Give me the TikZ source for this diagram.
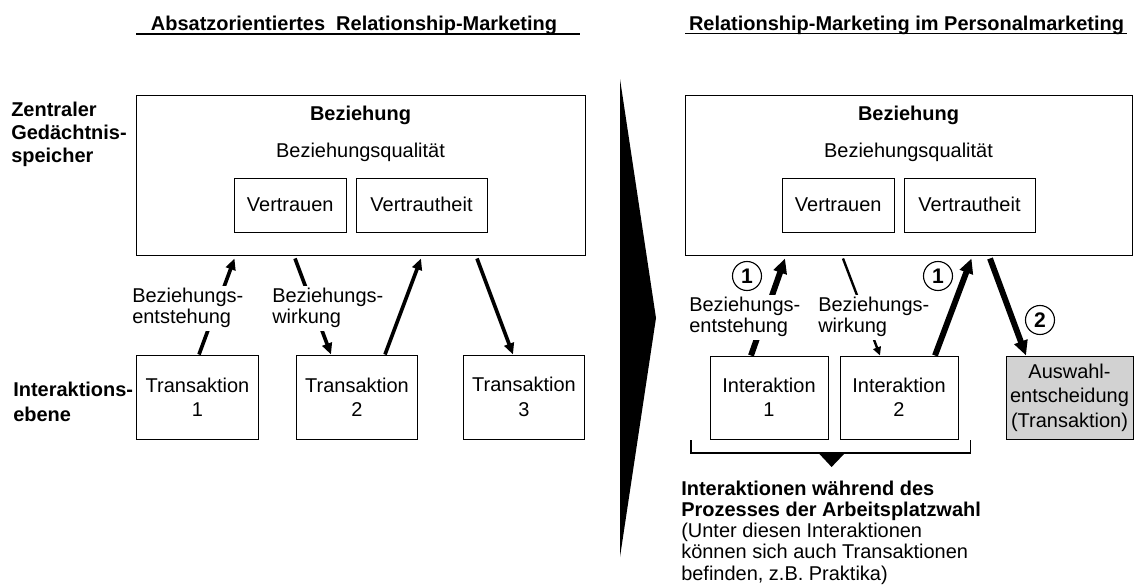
\documentclass[tikz,border=0pt]{standalone}
\usepackage{fontspec}
\setmainfont{Liberation Sans}
\usetikzlibrary{arrows.meta}
\usetikzlibrary{calc}
\definecolor{boxgray}{RGB}{210,210,210}
\newcommand{\pu}{0.025cm}

\begin{document}
\begin{tikzpicture}[x=\pu,y=-\pu,
    every node/.style={font=\fontsize{14.2}{17.4}\selectfont},
    box/.style={draw,line width=0.7pt,align=center,inner sep=2pt},
    qbox/.style={box,text height=10.4pt,text depth=0.6pt,minimum height=54*\pu},
    lbl/.style={fill=white,align=left,inner sep=2pt,anchor=west,font=\fontsize{14.2}{14.9}\selectfont},
    num/.style={draw,circle,line width=0.8pt,minimum size=29*\pu,inner sep=0pt,font=\fontsize{15}{17.4}\selectfont\bfseries},
    arr/.style={-{Triangle[length=8pt,width=7pt]},line width=2.6pt},
    arrlight/.style={-{Triangle[length=6pt,width=5.6pt]},line width=1.7pt},
    arrheavy/.style={-{Triangle[length=10.5pt,width=9.5pt]},line width=4.2pt}]
    \useasboundingbox (0,0) rectangle (1134,585);

    % titles
    \node[anchor=base,font=\fontsize{14.2}{17.4}\selectfont\bfseries] (tl1) at (354,30) {Absatzorientiertes\ \ Relationship-Marketing};
    \draw[line width=0.8pt] (136,34) -- (580,34);
    \node[anchor=base,font=\fontsize{14.2}{17.4}\selectfont\bfseries] (tl2) at (906.5,30) {Relationship-Marketing im Personalmarketing};
    \draw[line width=0.8pt] (685,33.5) -- (1127,33.5);

    % row labels
    \node[anchor=west,align=left,inner sep=0pt,font=\fontsize{14.2}{16.4}\selectfont\bfseries] (zgs) at (11,134.5) {Zentraler\\Gedächtnis-\\speicher};
    \node[anchor=west,align=left,inner sep=0pt,font=\fontsize{14.2}{17.4}\selectfont\bfseries] (iae) at (13,401.8) {Interaktions-\\ebene};

    % left: relationship box
    \node[box,minimum width=449*\pu,minimum height=160*\pu] (bez1) at (360.5,175) {};
    \node[anchor=base,font=\fontsize{14.2}{17.4}\selectfont\bfseries] (bt1) at (360.5,120.7) {Beziehung};
    \node[anchor=base] (bq1) at (360.5,157) {Beziehungsqualität};
    \node[qbox,minimum width=111.5*\pu] (vtr1) at (290.25,205) {Vertrauen};
    \node[qbox,minimum width=131*\pu] (vth1) at (421.5,205) {Vertrautheit};

    % left: transactions
    \foreach \i/\x in {1/197.5,2/357,3/524}
        \node[box,minimum width=121.5*\pu,minimum height=84*\pu] (ta\i) at (\x,397) {Transaktion\\\i};

    % left: connectors
    \draw[arr] ([shift={(1.5,0)}]ta1.north) -- ([shift={(-126,3)}]bez1.south);
    \draw[arr] ([shift={(-65.5,3)}]bez1.south) -- ([shift={(-26,0)}]ta2.north);
    \draw[arr] ([shift={(28,0)}]ta2.north) -- ([shift={(60.5,3)}]bez1.south);
    \draw[arr] ([shift={(116.5,3)}]bez1.south) -- ([shift={(-11,0)}]ta3.north);
    \node[lbl] (lb1) at (129.2,308.3) {Beziehungs-\\entstehung};
    \node[lbl] (lb2) at (269.2,308.3) {Beziehungs-\\wirkung};

    % separator
    \fill (620,79) -- (656,318) -- (620,557) -- cycle;

    % right: relationship box
    \node[box,minimum width=447*\pu,minimum height=160*\pu] (bez2) at (908.5,175) {};
    \node[anchor=base,font=\fontsize{14.2}{17.4}\selectfont\bfseries] (bt2) at (908.5,120.7) {Beziehung};
    \node[anchor=base] (bq2) at (908.5,157) {Beziehungsqualität};
    \node[qbox,minimum width=111.5*\pu] (vtr2) at (838.25,205) {Vertrauen};
    \node[qbox,minimum width=131*\pu] (vth2) at (969.5,205) {Vertrautheit};

    % right: interactions and choice
    \foreach \i/\x in {1/769,2/899}
        \node[box,minimum width=118*\pu,minimum height=83*\pu] (ia\i) at (\x,397.5) {Interaktion\\\i};
    \node[box,fill=boxgray,minimum width=127*\pu,minimum height=83*\pu,font=\fontsize{14.2}{17.4}\selectfont] (aw) at (1069.5,397.5) {Auswahl-\\entscheidung\\(Transaktion)};

    % right: connectors
    \draw[arrheavy] ([shift={(-18,0)}]ia1.north) -- ([shift={(-123.5,3)}]bez2.south);
    \draw[arrlight] ([shift={(-65.5,3)}]bez2.south) -- ([shift={(-19,0)}]ia2.north);
    \draw[arrheavy] ([shift={(36,0)}]ia2.north) -- ([shift={(63,3)}]bez2.south);
    \draw[arrheavy] ([shift={(81.5,3)}]bez2.south) -- ([shift={(-43.5,0)}]aw.north);
    \node[lbl] (lb3) at (686.2,317.3) {Beziehungs-\\entstehung};
    \node[lbl] (lb4) at (815.2,317.3) {Beziehungs-\\wirkung};

    % phase numbers
    \node[num] (c1a) at (747,276) {1};
    \node[num] (c1b) at (938,276) {1};
    \node[num] (c2) at (1040,320) {2};

    % bracket and note
    \draw[line width=0.8pt] (691,440) -- (691,453) -- (970.5,453) -- (970.5,440);
    \fill (818.5,453) -- (845,453) -- (831.6,467) -- cycle;
    \node[anchor=north west,align=left,inner sep=0pt,font=\fontsize{14.2}{15.1}\selectfont] (note) at (681,480.4)
        {\textbf{Interaktionen während des}\\\textbf{Prozesses der Arbeitsplatzwahl}\\(Unter diesen Interaktionen\\können sich auch Transaktionen\\befinden, z.B. Praktika)};
\end{tikzpicture}
\end{document}
